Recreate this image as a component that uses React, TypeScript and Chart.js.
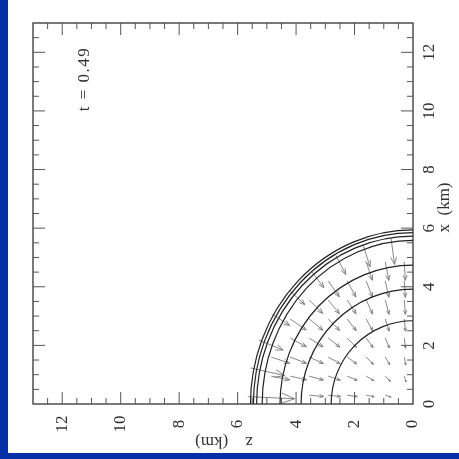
import React, { useEffect, useRef } from "react";
import { Chart, registerables } from "chart.js";

Chart.register(...registerables);

// axis extents (km) and tick layout
const axisMax = 13;
const minorStep = 0.5;
const zTickLabels = ["0", "2", "4", "6", "8", "10", "12"];
const xTickLabels = ["0", "2", "4", "6", "8", "10", "12"];
const zTitle = "z    (km)";
const xTitle = "x  (km)";
const timeLabel = "t = 0.49";

// density contours: semi-axes along z (horizontal) and x (vertical), km
const contourZ = [2.8, 3.83, 4.55, 5.16, 5.35, 5.46, 5.56];
const contourX = [2.84, 3.92, 4.74, 5.58, 5.73, 5.85, 5.94];

// velocity arrows: tail position (km), one grid row per line,
// followed by the ring of surface arrows
const arrowZ = [
  0.95, 1.6, 2.25, 2.9, 3.55,
  0.3, 0.95, 1.6, 2.25, 2.9, 3.55, 4.2, 4.85,
  0.3, 0.95, 1.6, 2.25, 2.9, 3.55, 4.2, 4.85,
  0.3, 0.95, 1.6, 2.25, 2.9, 3.55, 4.2,
  0.3, 0.95, 1.6, 2.25, 2.9, 3.55, 4.2,
  0.3, 0.95, 1.6, 2.25, 2.9, 3.55,
  0.3, 0.95, 1.6, 2.25, 2.9,
  0.3, 0.95, 1.6,
  5.65, 5.56, 5.27, 4.81, 4.2, 3.47, 2.63, 1.71, 0.75,
];
const arrowX = [
  0.3, 0.3, 0.3, 0.3, 0.3,
  0.95, 0.95, 0.95, 0.95, 0.95, 0.95, 0.95, 0.95,
  1.6, 1.6, 1.6, 1.6, 1.6, 1.6, 1.6, 1.6,
  2.25, 2.25, 2.25, 2.25, 2.25, 2.25, 2.25,
  2.9, 2.9, 2.9, 2.9, 2.9, 2.9, 2.9,
  3.55, 3.55, 3.55, 3.55, 3.55, 3.55,
  4.2, 4.2, 4.2, 4.2, 4.2,
  4.85, 4.85, 4.85,
  0.25, 1.23, 2.18, 3.06, 3.85, 4.52, 5.06, 5.44, 5.65,
];
// velocity arrows: displacement (km)
const arrowDZ = [
  -0.2, -0.274, -0.347, -0.418, -0.49,
  -0.063, -0.175, -0.262, -0.34, -0.414, -0.487, -0.559, -0.632,
  -0.051, -0.156, -0.247, -0.329, -0.407, -0.482, -0.556, -0.629,
  -0.046, -0.143, -0.234, -0.318, -0.398, -0.475, -0.55,
  -0.043, -0.136, -0.224, -0.309, -0.39, -0.468, -0.544,
  -0.041, -0.13, -0.217, -0.301, -0.382, -0.461,
  -0.04, -0.127, -0.212, -0.295, -0.376,
  -0.039, -0.124, -0.207,
  -1.6, -1.17, -0.83, -0.59, -0.5, -0.42, -0.33, -0.24, -0.12,
];
const arrowDX = [
  -0.063, -0.051, -0.046, -0.043, -0.041,
  -0.2, -0.175, -0.156, -0.143, -0.136, -0.13, -0.127, -0.124,
  -0.274, -0.262, -0.247, -0.234, -0.224, -0.217, -0.212, -0.207,
  -0.347, -0.34, -0.329, -0.318, -0.309, -0.301, -0.295,
  -0.418, -0.414, -0.407, -0.398, -0.39, -0.382, -0.376,
  -0.49, -0.487, -0.482, -0.475, -0.468, -0.461,
  -0.562, -0.559, -0.556, -0.55, -0.544,
  -0.633, -0.632, -0.629,
  -0.07, -0.26, -0.34, -0.38, -0.46, -0.55, -0.64, -0.76, -0.89,
];

const INK = "#333";
const FONT = "17px 'Liberation Serif', 'DejaVu Serif', serif";

const figurePlugin = {
  id: "figure",
  beforeDraw(chart: any) {
    const { ctx } = chart;
    ctx.save();
    ctx.fillStyle = "#ffffff";
    ctx.fillRect(0, 0, chart.width, chart.height);
    ctx.restore();
  },
  afterDraw(chart: any) {
    const { ctx, chartArea: a, scales } = chart;
    const sz = scales.x;
    const sx = scales.y;
    const cx = sz.getPixelForValue(0);
    const cy = sx.getPixelForValue(0);

    ctx.save();
    ctx.beginPath();
    ctx.rect(a.left, a.top, a.right - a.left, a.bottom - a.top);
    ctx.clip();

    // velocity arrows with open heads scaled to their length
    ctx.strokeStyle = "#7a7a7a";
    ctx.lineWidth = 0.9;
    arrowZ.forEach((z, i) => {
      const x0 = sz.getPixelForValue(z);
      const y0 = sx.getPixelForValue(arrowX[i]);
      const x1 = sz.getPixelForValue(z + arrowDZ[i]);
      const y1 = sx.getPixelForValue(arrowX[i] + arrowDX[i]);
      const len = Math.hypot(x1 - x0, y1 - y0);
      const ang = Math.atan2(y1 - y0, x1 - x0);
      const head = len * 0.3;
      const spread = 0.38;
      ctx.beginPath();
      ctx.moveTo(x0, y0);
      ctx.lineTo(x1, y1);
      ctx.moveTo(x1 - head * Math.cos(ang - spread), y1 - head * Math.sin(ang - spread));
      ctx.lineTo(x1, y1);
      ctx.lineTo(x1 - head * Math.cos(ang + spread), y1 - head * Math.sin(ang + spread));
      ctx.stroke();
    });

    // density contours
    ctx.strokeStyle = "#222";
    ctx.lineWidth = 1.2;
    contourZ.forEach((rz, i) => {
      const pz = Math.abs(sz.getPixelForValue(rz) - cx);
      const px = Math.abs(sx.getPixelForValue(contourX[i]) - cy);
      ctx.beginPath();
      ctx.ellipse(cx, cy, pz, px, 0, Math.PI, 1.5 * Math.PI);
      ctx.stroke();
    });
    ctx.restore();

    // frame
    ctx.save();
    ctx.strokeStyle = INK;
    ctx.lineWidth = 1.3;
    ctx.strokeRect(a.left, a.top, a.right - a.left, a.bottom - a.top);

    // ticks on all four sides, pointing inward
    ctx.lineWidth = 1;
    ctx.strokeStyle = "#555";
    for (let v = minorStep; v < axisMax; v += minorStep) {
      const major = Math.abs(v / 2 - Math.round(v / 2)) < 1e-6;
      const L = major ? 12 : 6;
      const pz = sz.getPixelForValue(v);
      const px = sx.getPixelForValue(v);
      ctx.beginPath();
      ctx.moveTo(pz, a.bottom);
      ctx.lineTo(pz, a.bottom - L);
      ctx.moveTo(pz, a.top);
      ctx.lineTo(pz, a.top + L);
      ctx.moveTo(a.left, px);
      ctx.lineTo(a.left + L, px);
      ctx.moveTo(a.right, px);
      ctx.lineTo(a.right - L, px);
      ctx.stroke();
    }

    // tick labels, turned a quarter turn
    ctx.fillStyle = INK;
    ctx.font = FONT;
    ctx.textAlign = "center";
    ctx.textBaseline = "middle";
    zTickLabels.forEach((t) => {
      ctx.save();
      ctx.translate(sz.getPixelForValue(Number(t)), a.bottom + 20);
      ctx.rotate(-Math.PI / 2);
      ctx.fillText(t, 0, 0);
      ctx.restore();
    });
    xTickLabels.forEach((t) => {
      ctx.save();
      ctx.translate(a.right + 17, sx.getPixelForValue(Number(t)));
      ctx.rotate(-Math.PI / 2);
      ctx.fillText(t, 0, 0);
      ctx.restore();
    });

    // axis titles and time stamp
    ctx.save();
    ctx.translate((a.left + a.right) / 2 + 1, a.bottom + 37);
    ctx.rotate(Math.PI);
    ctx.fillText(zTitle, 0, 0);
    ctx.restore();

    ctx.save();
    ctx.translate(a.right + 32, (a.top + a.bottom) / 2 - 6);
    ctx.rotate(-Math.PI / 2);
    ctx.fillText(xTitle, 0, 0);
    ctx.restore();

    ctx.save();
    ctx.translate(a.left + 52, a.top + 56);
    ctx.rotate(-Math.PI / 2);
    ctx.letterSpacing = "1.5px";
    ctx.fillText(timeLabel, 0, 0);
    ctx.restore();

    ctx.restore();
  },
};

export default function App() {
  const ref = useRef<HTMLCanvasElement | null>(null);

  useEffect(() => {
    if (!ref.current) return;
    const chart = new Chart(ref.current, {
      type: "scatter",
      data: { datasets: [{ data: [], pointRadius: 0 }] },
      options: {
        animation: false,
        responsive: false,
        maintainAspectRatio: false,
        devicePixelRatio: 1,
        layout: { padding: { left: 25, top: 23, right: 46, bottom: 49 } },
        plugins: { legend: { display: false }, tooltip: { enabled: false } },
        scales: {
          x: { type: "linear", min: 0, max: axisMax, reverse: true, display: false },
          y: { type: "linear", min: 0, max: axisMax, display: false },
        },
      },
      plugins: [figurePlugin],
    });
    return () => chart.destroy();
  }, []);

  return (
    <div
      style={{
        position: "fixed",
        left: 0,
        top: 0,
        width: 459,
        height: 459,
        background: "#0530a8",
      }}
    >
      <canvas
        ref={ref}
        width={451}
        height={453}
        style={{ position: "absolute", left: 8, top: 0, width: 451, height: 453 }}
      />
    </div>
  );
}
